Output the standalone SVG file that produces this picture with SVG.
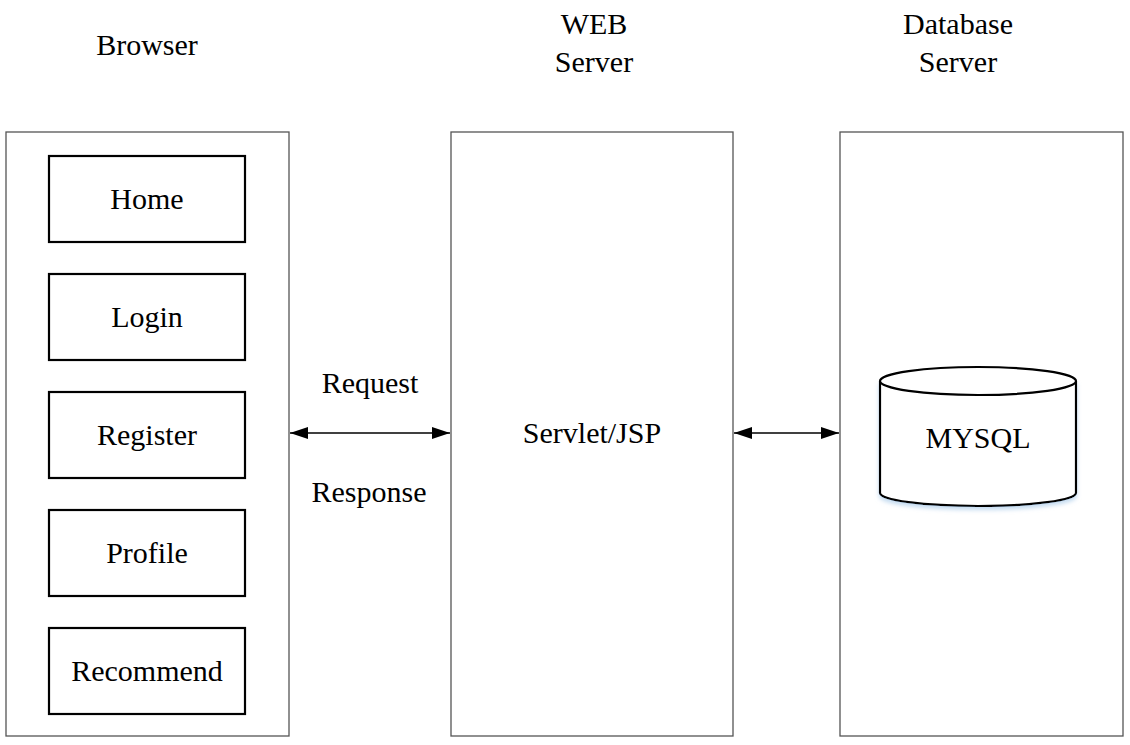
<svg xmlns="http://www.w3.org/2000/svg" width="1130" height="745" viewBox="0 0 1130 745">
<style>
.outer{fill:#fff;stroke:#555;stroke-width:1.3}
.inner{fill:#fff;stroke:#000;stroke-width:2.2}
.t{font-family:"Liberation Serif","Times New Roman",serif;font-size:30px;fill:#000;text-anchor:middle}
.conn{stroke:#000;stroke-width:1.6;fill:none}
</style>
<defs>
<marker id="ah" viewBox="0 0 18 12" refX="18" refY="6" markerWidth="18" markerHeight="12" markerUnits="userSpaceOnUse" orient="auto-start-reverse">
<path d="M0,0 L18,6 L0,12 Z" fill="#000"/>
</marker>
<filter id="sh" x="-10%" y="-10%" width="120%" height="130%">
<feDropShadow dx="0" dy="3" stdDeviation="2" flood-color="#9cc3e6" flood-opacity="0.6"/>
</filter>
</defs>
<rect width="1130" height="745" fill="#fff"/>
<g id="browser">
<rect class="outer" x="6" y="132" width="283" height="604"/>
<text class="t" x="147" y="55">Browser</text>
</g>
<g id="home"><rect class="inner" x="49" y="156" width="196" height="86"/><text class="t" x="147" y="209">Home</text></g>
<g id="login"><rect class="inner" x="49" y="274" width="196" height="86"/><text class="t" x="147" y="327">Login</text></g>
<g id="register"><rect class="inner" x="49" y="392" width="196" height="86"/><text class="t" x="147" y="445">Register</text></g>
<g id="profile"><rect class="inner" x="49" y="510" width="196" height="86"/><text class="t" x="147" y="563">Profile</text></g>
<g id="recommend"><rect class="inner" x="49" y="628" width="196" height="86"/><text class="t" x="147" y="681">Recommend</text></g>
<g id="web">
<rect class="outer" x="451" y="132" width="282" height="604"/>
<text class="t" x="594" y="34">WEB</text>
<text class="t" x="594" y="72">Server</text>
<text class="t" x="592" y="443">Servlet/JSP</text>
</g>
<g id="db">
<rect class="outer" x="840" y="132" width="283" height="604"/>
<text class="t" x="958" y="34">Database</text>
<text class="t" x="958" y="72">Server</text>
</g>
<g id="mysql">
<path d="M880,381 L880,493 A98,13 0 0 0 1076,493 L1076,381" fill="#fff" stroke="#000" stroke-width="2.2" filter="url(#sh)"/>
<ellipse cx="978" cy="381" rx="98" ry="14" fill="#fff" stroke="#000" stroke-width="2.2"/>
<text class="t" x="978" y="448">MYSQL</text>
</g>
<g id="connectors">
<line class="conn" x1="290" y1="433" x2="450" y2="433" marker-start="url(#ah)" marker-end="url(#ah)"/>
<line class="conn" x1="734" y1="433" x2="839" y2="433" marker-start="url(#ah)" marker-end="url(#ah)"/>
<text class="t" x="370" y="393">Request</text>
<text class="t" x="369" y="502">Response</text>
</g>
</svg>
